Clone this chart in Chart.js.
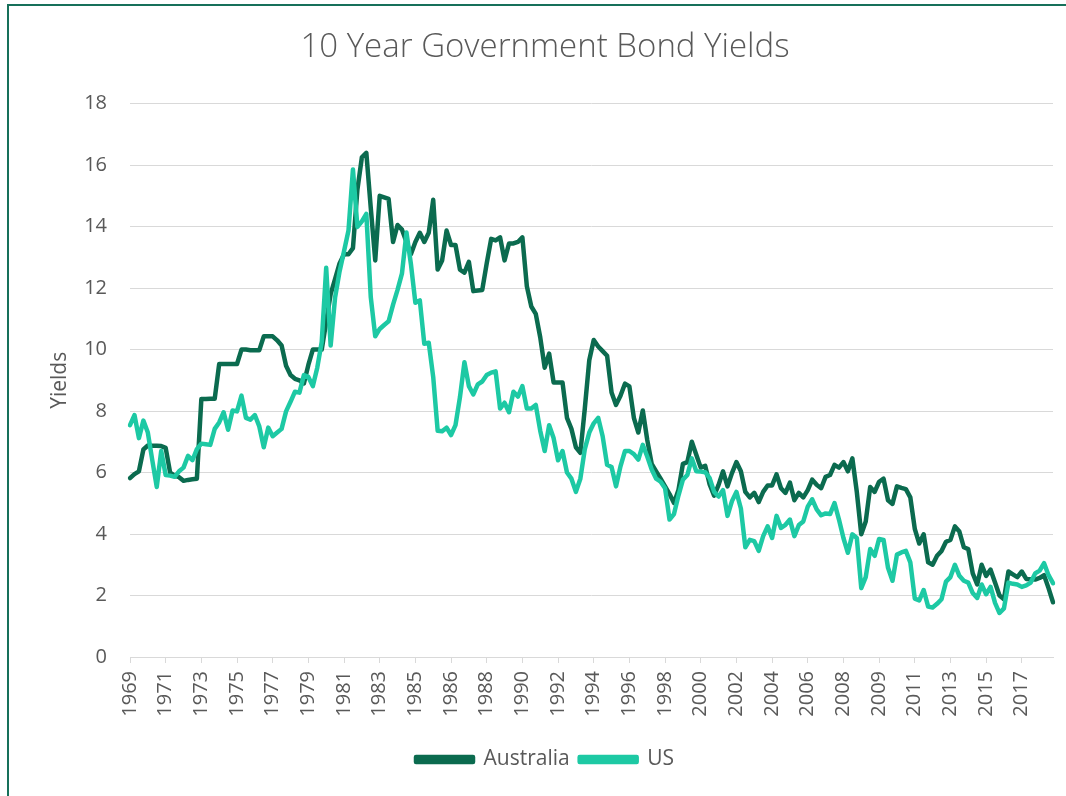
<!DOCTYPE html>
<html>
<head>
<meta charset="utf-8">
<script src="https://cdn.jsdelivr.net/npm/chart.js@4"></script>
<style>
  html, body { margin: 0; padding: 0; background: #fff; }
  canvas { display: block; }
</style>
</head>
<body>
<canvas id="bondChart" width="1066" height="796"></canvas>
<script>
// x-axis labels, one every 8 observations
const tickLabels = ['1969', '1971', '1973', '1975', '1977', '1979', '1981', '1983', '1985', '1986',
  '1988', '1990', '1992', '1994', '1996', '1998', '2000', '2002', '2004', '2006',
  '2008', '2009', '2011', '2013', '2015', '2017'];

const australia = [
  5.82, 5.95, 6.04, 6.75, 6.88, 6.87, 6.87, 6.86, 6.8, 6.0,
  5.9, 5.85, 5.73, 5.76, 5.78, 5.8, 8.39, 8.39, 8.4, 8.4,
  9.53, 9.53, 9.53, 9.53, 9.53, 10.0, 10.0, 9.98, 9.98, 9.98,
  10.43, 10.43, 10.43, 10.3, 10.13, 9.47, 9.17, 9.05, 9.0, 8.9,
  9.5, 10.0, 10.0, 10.0, 10.9, 11.8, 12.3, 12.8, 13.1, 13.1,
  13.3, 15.2, 16.25, 16.4, 14.6, 12.9, 15.0, 14.95, 14.9, 13.5,
  14.05, 13.9, 13.5, 13.1, 13.5, 13.8, 13.5, 13.8, 14.87, 12.6,
  12.9, 13.87, 13.4, 13.4, 12.6, 12.5, 12.85, 11.9, 11.92, 11.94,
  12.8, 13.6, 13.55, 13.65, 12.9, 13.45, 13.45, 13.5, 13.65, 12.06,
  11.4, 11.16, 10.4, 9.41, 9.87, 8.93, 8.93, 8.93, 7.78, 7.42,
  6.82, 6.64, 8.08, 9.65, 10.31, 10.1, 9.95, 9.8, 8.6, 8.2,
  8.5, 8.89, 8.8, 7.78, 7.3, 8.02, 7.06, 6.28, 6.04, 5.8,
  5.55, 5.3, 5.01, 5.43, 6.28, 6.34, 7.0, 6.58, 6.16, 6.22,
  5.61, 5.25, 5.6, 6.04, 5.55, 5.98, 6.34, 6.04, 5.37, 5.19,
  5.34, 5.04, 5.37, 5.58, 5.58, 5.94, 5.49, 5.34, 5.67, 5.1,
  5.34, 5.19, 5.43, 5.77, 5.6, 5.49, 5.86, 5.92, 6.25, 6.16,
  6.34, 6.04, 6.46, 5.37, 3.99, 4.41, 5.53, 5.37, 5.7, 5.8,
  5.1, 4.98, 5.55, 5.5, 5.46, 5.19, 4.17, 3.69, 3.99, 3.08,
  3.0, 3.29, 3.45, 3.75, 3.81, 4.25, 4.08, 3.57, 3.51, 2.72,
  2.36, 3.0, 2.64, 2.84, 2.42, 2.0, 1.88, 2.78, 2.69, 2.6,
  2.78, 2.54, 2.53, 2.52, 2.57, 2.66, 2.24, 1.78
];

const us = [
  7.54, 7.87, 7.12, 7.69, 7.3, 6.4, 5.53, 6.7, 5.92, 5.9,
  5.86, 6.04, 6.16, 6.54, 6.4, 6.76, 6.94, 6.92, 6.9, 7.42,
  7.63, 7.96, 7.39, 8.02, 7.99, 8.5, 7.78, 7.72, 7.87, 7.5,
  6.82, 7.46, 7.18, 7.3, 7.42, 7.99, 8.3, 8.63, 8.6, 9.17,
  9.11, 8.81, 9.41, 10.25, 12.66, 10.13, 11.7, 12.54, 13.2, 13.87,
  15.86, 13.99, 14.17, 14.41, 11.7, 10.43, 10.67, 10.8, 10.92, 11.46,
  11.94, 12.48, 13.81, 12.78, 11.52, 11.6, 10.19, 10.22, 9.11, 7.36,
  7.34, 7.46, 7.22, 7.54, 8.45, 9.59, 8.81, 8.54, 8.87, 8.96,
  9.17, 9.25, 9.29, 8.08, 8.27, 7.96, 8.63, 8.47, 8.81, 8.08,
  8.08, 8.2, 7.36, 6.7, 7.54, 7.12, 6.4, 6.7, 6.0, 5.8,
  5.37, 5.8, 6.76, 7.3, 7.6, 7.78, 7.18, 6.25, 6.18, 5.55,
  6.2, 6.7, 6.7, 6.6, 6.42, 6.9, 6.52, 6.1, 5.8, 5.7,
  5.49, 4.47, 4.65, 5.25, 5.77, 5.92, 6.46, 6.04, 6.03, 6.01,
  5.82, 5.37, 5.22, 5.43, 4.59, 5.07, 5.37, 4.83, 3.57, 3.81,
  3.77, 3.45, 3.93, 4.25, 3.87, 4.59, 4.2, 4.3, 4.47, 3.93,
  4.29, 4.41, 4.89, 5.13, 4.8, 4.61, 4.67, 4.65, 5.01, 4.47,
  3.87, 3.39, 3.99, 3.87, 2.24, 2.6, 3.51, 3.29, 3.84, 3.81,
  2.9, 2.48, 3.33, 3.4, 3.45, 3.08, 1.9, 1.84, 2.18, 1.64,
  1.61, 1.73, 1.88, 2.45, 2.6, 3.0, 2.64, 2.48, 2.42, 2.08,
  1.92, 2.36, 2.04, 2.28, 1.76, 1.43, 1.58, 2.42, 2.38, 2.36,
  2.28, 2.33, 2.42, 2.72, 2.81, 3.05, 2.66, 2.4
];

const TICK_EVERY = 8;
// each observation takes the label of the group it falls in
const periods = australia.map((_, i) => tickLabels[Math.floor(i / TICK_EVERY)]);

const textColor = '#595959';
const gridColor = '#d9d9d9';

Chart.defaults.font.family = "'Open Sans', sans-serif";
Chart.defaults.color = textColor;

// green frame around the chart, like the Excel chart border
const frame = {
  id: 'frame',
  afterDraw(chart) {
    const c = chart.ctx;
    c.save();
    c.strokeStyle = '#17705a';
    c.lineWidth = 2;
    c.strokeRect(8, 5, 1200, 1000);
    c.restore();
  }
};

const ctx = document.getElementById('bondChart').getContext('2d');

new Chart(ctx, {
  type: 'line',
  data: {
    labels: periods,
    datasets: [
      {
        label: 'Australia',
        data: australia,
        borderColor: '#0b6b4f',
        backgroundColor: '#0b6b4f',
        order: 1
      },
      {
        label: 'US',
        data: us,
        borderColor: '#1dc9a4',
        backgroundColor: '#1dc9a4',
        order: 0
      }
    ]
  },
  options: {
    responsive: false,
    animation: false,
    devicePixelRatio: 1,
    layout: { padding: { left: 37, right: 13, top: 0, bottom: 16 } },
    elements: {
      point: { radius: 0, hoverRadius: 0 },
      line: { borderWidth: 4.5, tension: 0, borderJoinStyle: 'round', borderCapStyle: 'round' }
    },
    plugins: {
      title: {
        display: true,
        text: '10 Year Government Bond Yields',
        color: textColor,
        font: { size: 33, weight: '300' },
        padding: { top: 28, bottom: 36 }
      },
      legend: {
        position: 'bottom',
        labels: {
          boxWidth: 57,
          boxHeight: 5,
          padding: 10,
          color: textColor,
          font: { size: 21 },
          sort: (a, b) => a.datasetIndex - b.datasetIndex
        }
      },
      tooltip: { enabled: false }
    },
    scales: {
      x: {
        afterBuildTicks: axis => {
          axis.ticks = axis.ticks.filter(t => t.value % TICK_EVERY === 0);
        },
        afterFit: scale => { scale.height = 82; },
        grid: { drawOnChartArea: false, drawTicks: true, tickLength: 6, color: gridColor },
        border: { color: gridColor },
        ticks: { autoSkip: false, minRotation: 90, maxRotation: 90, padding: 8, font: { size: 20 } }
      },
      y: {
        min: 0,
        max: 18,
        afterFit: scale => { scale.width = 93; },
        grid: { color: gridColor, drawTicks: false },
        border: { display: false },
        ticks: { stepSize: 2, padding: 23, font: { size: 20 } },
        title: { display: true, text: 'Yields', font: { size: 21 }, padding: { top: 10 } }
      }
    }
  },
  plugins: [frame]
});
</script>
</body>
</html>
